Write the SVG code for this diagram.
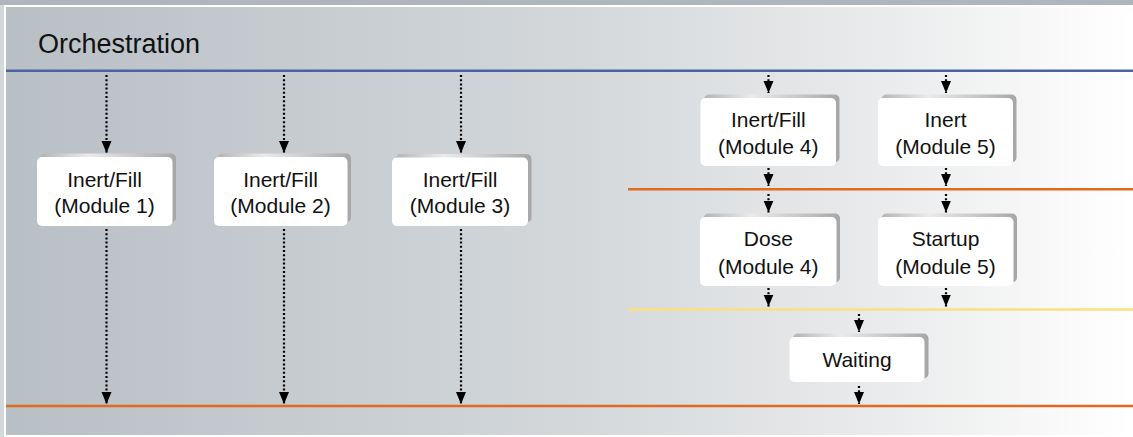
<svg xmlns="http://www.w3.org/2000/svg" width="1133" height="437" viewBox="0 0 1133 437">
<defs>
<linearGradient id="panel" x1="0" y1="0" x2="1" y2="0">
<stop offset="0" stop-color="#b8bfc5"/>
<stop offset="0.5" stop-color="#d3d7da"/>
<stop offset="0.78" stop-color="#eaebec"/>
<stop offset="1" stop-color="#ffffff"/>
</linearGradient>
<linearGradient id="shade" x1="0" y1="0" x2="1" y2="0">
<stop offset="0" stop-color="#b4b4b4"/>
<stop offset="0.35" stop-color="#ebebeb"/>
<stop offset="0.8" stop-color="#bdbdbd"/>
<stop offset="1" stop-color="#a6a6a6"/>
</linearGradient>
<marker id="head" markerUnits="userSpaceOnUse" markerWidth="13" markerHeight="11" refX="12" refY="5" orient="auto">
<path d="M0,0 L12,5 L0,10 z" fill="#000"/>
</marker>
<style>
.lbl{font-family:"Liberation Sans",Arial,sans-serif;font-size:21px;fill:#111;text-anchor:middle}
.box{fill:#ffffff}
.sh{fill:url(#shade)}
.dot{stroke:#000;stroke-width:2.2;stroke-dasharray:2 2.2;fill:none;marker-end:url(#head)}
</style>
</defs>
<rect x="0" y="0" width="1133" height="437" fill="#aeb5bc"/>
<rect x="0" y="5" width="4" height="432" fill="#d3d8dd"/>
<rect x="4" y="5" width="1129" height="432" fill="#ffffff"/>
<rect x="6" y="7" width="1127" height="428" fill="url(#panel)"/>
<text x="38" y="53" font-family="Liberation Sans, Arial, sans-serif" font-size="27" fill="#111">Orchestration</text>
<g id="separators">
<line x1="6" y1="70.8" x2="1133" y2="70.8" stroke="#4b63a2" stroke-width="2.4"/>
<line x1="628" y1="189.2" x2="1133" y2="189.2" stroke="#e06a1e" stroke-width="2.6"/>
<line x1="628" y1="309.5" x2="1133" y2="309.5" stroke="#fbe17c" stroke-width="2.6"/>
<line x1="6" y1="406" x2="1133" y2="406" stroke="#e06a1e" stroke-width="2.6"/>
</g>
<g id="connectors">
<line class="dot" x1="106.5" y1="75" x2="106.5" y2="153"/>
<line class="dot" x1="106.5" y1="229" x2="106.5" y2="404"/>
<line class="dot" x1="284" y1="75" x2="284" y2="153"/>
<line class="dot" x1="284" y1="229" x2="284" y2="404"/>
<line class="dot" x1="461" y1="75" x2="461" y2="153"/>
<line class="dot" x1="461" y1="229" x2="461" y2="404"/>
<line class="dot" x1="768.5" y1="75" x2="768.5" y2="93"/>
<line class="dot" x1="768.5" y1="168" x2="768.5" y2="186"/>
<line class="dot" x1="768.5" y1="194" x2="768.5" y2="212.5"/>
<line class="dot" x1="768.5" y1="288" x2="768.5" y2="306.5"/>
<line class="dot" x1="946" y1="75" x2="946" y2="93"/>
<line class="dot" x1="946" y1="168" x2="946" y2="186"/>
<line class="dot" x1="946" y1="194" x2="946" y2="212.5"/>
<line class="dot" x1="946" y1="288" x2="946" y2="306.5"/>
<line class="dot" x1="859" y1="314" x2="859" y2="332"/>
<line class="dot" x1="859" y1="386" x2="859" y2="404"/>
</g>
<g id="n1">
<rect class="sh" x="40.5" y="153.5" width="135.5" height="69" rx="5"/>
<rect class="box" x="37" y="157" width="135.5" height="69" rx="5"/>
<text class="lbl" x="104.5" y="186.5">Inert/Fill</text>
<text class="lbl" x="104.5" y="212.5">(Module 1)</text>
</g>
<g id="n2">
<rect class="sh" x="217.5" y="153.5" width="133.5" height="69" rx="5"/>
<rect class="box" x="214" y="157" width="133.5" height="69" rx="5"/>
<text class="lbl" x="280.5" y="186.5">Inert/Fill</text>
<text class="lbl" x="280.5" y="212.5">(Module 2)</text>
</g>
<g id="n3">
<rect class="sh" x="395.5" y="154" width="136" height="68.5" rx="5"/>
<rect class="box" x="392" y="157.5" width="136" height="68.5" rx="5"/>
<text class="lbl" x="460" y="186.5">Inert/Fill</text>
<text class="lbl" x="460" y="212.5">(Module 3)</text>
</g>
<g id="n4">
<rect class="sh" x="704" y="94.5" width="135.5" height="68" rx="5"/>
<rect class="box" x="700.5" y="98" width="135.5" height="68" rx="5"/>
<text class="lbl" x="768.3" y="127">Inert/Fill</text>
<text class="lbl" x="768.3" y="153.5">(Module 4)</text>
</g>
<g id="n5">
<rect class="sh" x="881.5" y="94.5" width="135" height="68" rx="5"/>
<rect class="box" x="878" y="98" width="135" height="68" rx="5"/>
<text class="lbl" x="945.5" y="127">Inert</text>
<text class="lbl" x="945.5" y="153.5">(Module 5)</text>
</g>
<g id="n6">
<rect class="sh" x="703.5" y="213.5" width="136.5" height="69" rx="5"/>
<rect class="box" x="700" y="217" width="136.5" height="69" rx="5"/>
<text class="lbl" x="768.3" y="246">Dose</text>
<text class="lbl" x="768.3" y="273.5">(Module 4)</text>
</g>
<g id="n7">
<rect class="sh" x="881.5" y="213.5" width="135.5" height="69" rx="5"/>
<rect class="box" x="878" y="217" width="135.5" height="69" rx="5"/>
<text class="lbl" x="945.5" y="246">Startup</text>
<text class="lbl" x="945.5" y="273.5">(Module 5)</text>
</g>
<g id="n8">
<rect class="sh" x="793" y="333.5" width="135.5" height="45" rx="5"/>
<rect class="box" x="789.5" y="337" width="135" height="45" rx="5"/>
<text class="lbl" x="857" y="367">Waiting</text>
</g>
</svg>
